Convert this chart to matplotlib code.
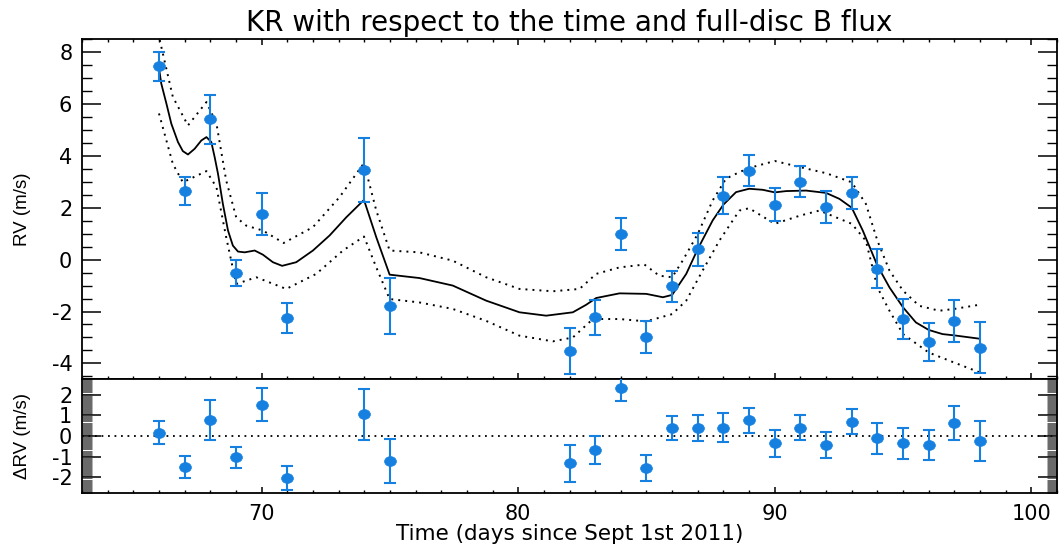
import matplotlib
matplotlib.use("Agg")
import matplotlib.pyplot as plt
from matplotlib.ticker import MultipleLocator
from matplotlib.path import Path

plt.rcParams['font.family'] = ['DejaVu Sans']
plt.rcParams['axes.unicode_minus'] = False

# ---- data ----
days = [66, 67, 68, 69, 70, 71, 74, 75, 82, 83, 84, 85, 86, 87, 88, 89, 90, 91, 92, 93, 94, 95, 96, 97, 98]
rv = [7.45, 2.65, 5.40, -0.53, 1.76, -2.24, 3.44, -1.79, -3.51, -2.23, 0.99, -2.97, -1.03, 0.39, 2.47,
      3.42, 2.12, 3.00, 2.03, 2.57, -0.35, -2.28, -3.18, -2.36, -3.39]
rv_err = [0.56, 0.55, 0.95, 0.50, 0.80, 0.58, 1.23, 1.08, 0.88, 0.67, 0.61, 0.62, 0.59, 0.62, 0.70,
          0.60, 0.63, 0.60, 0.63, 0.61, 0.76, 0.76, 0.72, 0.82, 0.97]
resid = [0.16, -1.50, 0.78, -1.03, 1.51, -2.01, 1.06, -1.21, -1.32, -0.66, 2.31, -1.56, 0.39, 0.38, 0.39,
         0.76, -0.36, 0.39, -0.44, 0.69, -0.11, -0.36, -0.43, 0.63, -0.25]

model_t = [66.0, 66.09, 66.29, 66.48, 66.74, 66.93, 67.13, 67.39, 67.65, 67.85, 68.04, 68.17, 68.3, 68.49,
           68.69, 68.88, 69.08, 69.34, 69.73, 70.05, 70.44, 70.8, 71.35, 72.0, 72.65, 73.3, 73.99, 74.47,
           74.99, 76.15, 77.45, 78.75, 80.05, 81.09, 82.13, 82.65, 83.04, 83.95, 84.99, 85.64, 86.0, 86.55,
           87.0, 87.58, 88.0, 88.49, 89.0, 89.53, 90.0, 90.44, 91.22, 92.0, 92.52, 93.0, 93.43, 94.0,
           94.47, 95.0, 95.5, 96.0, 96.54, 97.0, 98.0]
model_v = [7.38, 6.78, 6.01, 5.24, 4.53, 4.18, 4.05, 4.27, 4.59, 4.72, 4.53, 3.95, 3.31, 2.15,
           1.12, 0.54, 0.31, 0.28, 0.35, 0.19, -0.10, -0.24, -0.10, 0.35, 0.93, 1.63, 2.30, 0.86,
           -0.58, -0.71, -1.00, -1.58, -2.03, -2.16, -2.03, -1.74, -1.48, -1.30, -1.32, -1.45, -1.36, -0.55,
           0.41, 1.51, 2.12, 2.60, 2.73, 2.69, 2.59, 2.64, 2.66, 2.57, 2.34, 2.00, 1.12, -0.23,
           -1.07, -1.84, -2.42, -2.71, -2.87, -2.92, -3.05]

upper_t = [66.03, 66.54, 67.13, 67.85, 68.24, 68.62, 69.01, 69.4, 70.05, 70.86, 72.0, 73.04, 73.99, 74.47,
           74.99, 76.15, 77.45, 78.75, 80.05, 81.35, 82.39, 83.04, 83.95, 84.92, 85.5, 86.0, 86.41, 87.0,
           87.58, 88.1, 88.62, 89.0, 90.0, 91.0, 92.0, 93.0, 93.55, 94.0, 94.47, 95.0, 95.63, 96.41, 97.0,
           97.97]
upper_v = [8.46, 6.27, 5.17, 6.07, 5.24, 3.05, 1.63, 1.31, 1.12, 0.64, 1.25, 2.41, 3.72, 1.89,
           0.35, 0.28, -0.04, -0.68, -1.13, -1.22, -1.13, -0.55, -0.30, -0.19, -0.62, -0.68, -0.04, 0.99,
           2.28, 3.12, 3.37, 3.53, 3.80, 3.56, 3.33, 2.98, 2.15, 0.73, -0.42, -1.20, -1.78, -1.97, -1.90,
           -1.74]

lower_t = [66.0, 66.54, 66.93, 67.85, 68.24, 68.62, 69.01, 69.79, 70.96, 72.13, 73.17, 73.99, 74.47, 74.99,
           76.15, 77.45, 78.75, 80.05, 81.35, 82.13, 82.91, 83.95, 84.99, 86.0, 86.55, 87.19, 87.84, 88.62,
           89.0, 90.0, 91.0, 91.74, 93.0, 93.55, 94.0, 94.47, 95.0, 96.0, 97.0, 98.0]
lower_v = [5.63, 3.69, 2.98, 3.41, 2.79, 0.86, -0.94, -0.68, -1.13, -0.55, 0.35, 0.89, -0.30, -1.52,
           -1.65, -1.90, -2.36, -2.93, -3.15, -3.00, -2.29, -2.29, -2.38, -2.10, -1.58, -0.42, 0.73, 1.89,
           1.98, 1.38, 1.70, 1.89, 1.38, 0.73, -1.07, -1.97, -2.87, -3.58, -3.97, -4.35]

title = "KR with respect to the time and full-disc B flux"
xlabel = "Time (days since Sept 1st 2011)"
ylabel_top = "RV (m/s)"
ylabel_bot = "\u0394RV (m/s)"

# ---- styling ----
BLUE = '#1580e0'
W, H = 1059, 544
fig = plt.figure(figsize=(W / 100, H / 100), dpi=100)
left, right = 82, 1057
ax1 = fig.add_axes([left / W, (H - 379) / H, (right - left) / W, (379 - 39) / H])
ax2 = fig.add_axes([left / W, (H - 493) / H, (right - left) / W, (493 - 379) / H])

circ = Path.unit_circle()
ellipse = Path(circ.vertices * [1.2, 1.0], circ.codes)

dotted = (0, (1, 2.6))
eb_kw = dict(fmt='none', ecolor=BLUE, capsize=4, elinewidth=1.5, capthick=1.5, zorder=3)
mk_kw = dict(ls='none', marker=ellipse, ms=8.5, color=BLUE, mec=BLUE, mew=0.5, zorder=4)

ax1.plot(model_t, model_v, color='black', lw=1.3, zorder=2)
ax1.plot(upper_t, upper_v, color='black', lw=1.4, ls=dotted, zorder=2)
ax1.plot(lower_t, lower_v, color='black', lw=1.4, ls=dotted, zorder=2)
ax1.errorbar(days, rv, yerr=rv_err, **eb_kw)
ax1.plot(days, rv, **mk_kw)

ax2.axhline(0, color='black', lw=1.3, ls=dotted, zorder=1)
ax2.errorbar(days, resid, yerr=rv_err, **eb_kw)
ax2.plot(days, resid, **mk_kw)

for ax in (ax1, ax2):
    ax.set_xlim(63, 101)
    ax.xaxis.set_major_locator(MultipleLocator(10))
    ax.xaxis.set_minor_locator(MultipleLocator(1))
    for sp in ax.spines.values():
        sp.set_linewidth(1.3)

ax1.set_ylim(-4.6, 8.5)
ax1.yaxis.set_major_locator(MultipleLocator(2))
ax1.yaxis.set_minor_locator(MultipleLocator(0.5))
ax1.tick_params(axis='x', which='both', direction='in', top=True, bottom=True, labelbottom=False)
ax1.tick_params(axis='x', which='major', length=4.5, width=1.1)
ax1.tick_params(axis='x', which='minor', length=2.5, width=1.0)
ax1.tick_params(axis='y', which='both', direction='in', left=True, right=True, labelsize=15)
ax1.tick_params(axis='y', which='major', length=14, width=1.1, pad=7)
ax1.tick_params(axis='y', which='minor', length=7, width=1.0)

ax2.set_ylim(-2.75, 2.75)
ax2.yaxis.set_major_locator(MultipleLocator(1))
ax2.yaxis.set_minor_locator(MultipleLocator(0.05))
ax2.tick_params(axis='x', which='both', direction='in', top=False, bottom=True, labelsize=15)
ax2.tick_params(axis='x', which='major', length=4.5, width=1.1, pad=8)
ax2.tick_params(axis='x', which='minor', length=2.5, width=1.0)
ax2.tick_params(axis='y', which='both', direction='in', left=True, right=True, labelsize=15)
ax2.tick_params(axis='y', which='major', length=14, width=1.1, pad=7)
ax2.tick_params(axis='y', which='minor', length=7, width=0.45, color='#111111')

ax1.set_title(title, fontsize=20, pad=6)
ax1.set_ylabel(ylabel_top, fontsize=13.5, family=['Liberation Sans', 'DejaVu Sans'])
ax2.set_ylabel(ylabel_bot, fontsize=13.5, family=['Liberation Sans', 'DejaVu Sans'])
ax2.set_xlabel(xlabel, fontsize=15.5, labelpad=0)
ax1.yaxis.set_label_coords(-0.052, 0.5)
ax2.yaxis.set_label_coords(-0.052, 0.5)

fig.savefig("out.png", dpi=100)
